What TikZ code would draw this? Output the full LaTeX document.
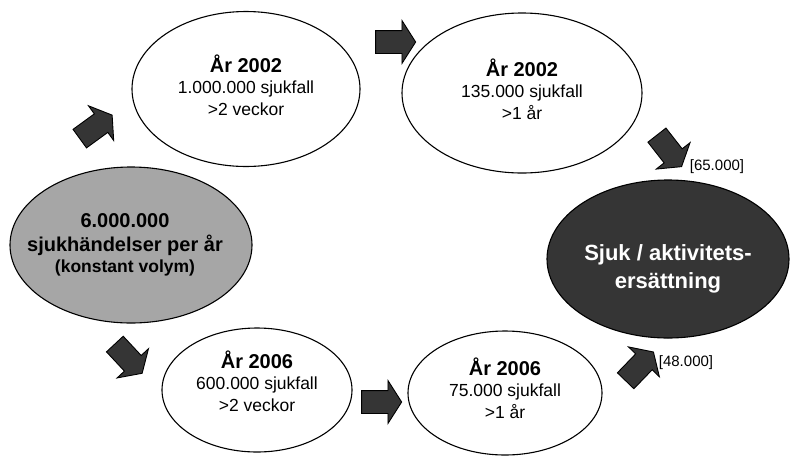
\documentclass[tikz,border=0pt]{standalone}
\usepackage{fontspec}
\setmainfont{Liberation Sans}
\usetikzlibrary{shapes.geometric,shapes.arrows}
\definecolor{darkfill}{HTML}{353535}
\definecolor{greyfill}{HTML}{A6A6A6}
\tikzset{
  ell/.style={ellipse,draw,line width=1.1pt,inner sep=0pt},
  txt/.style={align=center,inner sep=0pt,font=\fontsize{17.5}{21.5}\selectfont},
  blockarrow/.style={single arrow,draw,fill=darkfill,line width=0.9pt,
    inner xsep=0pt,inner ysep=11pt,minimum height=40pt,
    single arrow head extend=10pt,single arrow tip angle=115},
  lbl/.style={font=\fontsize{15}{18}\selectfont,inner sep=0pt}
}

\begin{document}
\begin{tikzpicture}[x=1pt,y=-1pt]
  \useasboundingbox (0,0) rectangle (793,456);

  \node[ell,fill=greyfill,minimum width=242pt,minimum height=156pt,
    label={[txt,font=\bfseries\fontsize{20}{24}\selectfont,xshift=-6pt]center:{6.000.000\\
      sjukhändelser per år\\[-3pt] {\fontsize{17.5}{24}\selectfont (konstant volym)}}}]
    (events) at (131,245) {};
  \node[ell,minimum width=228pt,minimum height=155pt,
    label={[txt,yshift=4pt]center:{{\bfseries\fontsize{20}{21.5}\selectfont År 2002}\\
      1.000.000 sjukfall\\ >2 veckor}}] (sick02) at (246,89) {};
  \node[ell,minimum width=240pt,minimum height=160pt,
    label={[txt,yshift=4pt]center:{{\bfseries\fontsize{20}{21.5}\selectfont År 2002}\\
      135.000 sjukfall\\ >1 år}}] (long02) at (522,93) {};
  \node[ell,minimum width=190pt,minimum height=124pt,
    label={[txt,yshift=9pt]center:{{\bfseries\fontsize{20}{21.5}\selectfont År 2006}\\
      600.000 sjukfall\\ >2 veckor}}] (sick06) at (257,390) {};
  \node[ell,minimum width=194pt,minimum height=124pt,
    label={[txt,yshift=5pt]center:{{\bfseries\fontsize{20}{21.5}\selectfont År 2006}\\
      75.000 sjukfall\\ >1 år}}] (long06) at (505,393) {};
  \node[ell,fill=darkfill,minimum width=242pt,minimum height=158pt,
    label={[txt,text=white,font=\bfseries\fontsize{22}{28}\selectfont,yshift=-10pt]center:{Sjuk / aktivitets-\\
      ersättning}}] (benefit) at (668,259) {};

  % block arrows between the ellipses
  \node[blockarrow,rotate=36] (a1) at (93,129) {};
  \node[blockarrow] (a2) at (392,42) {};
  \node[blockarrow,rotate=-52] (a3) at (667,148) {};
  \node[blockarrow,rotate=-47] (a4) at (126,356) {};
  \node[blockarrow] (a5) at (378,402) {};
  \node[blockarrow,rotate=46] (a6) at (637,369) {};

  \node[lbl] (n65) at (717,167) {[65.000]};
  \node[lbl] (n48) at (686,363) {[48.000]};
\end{tikzpicture}
\end{document}
